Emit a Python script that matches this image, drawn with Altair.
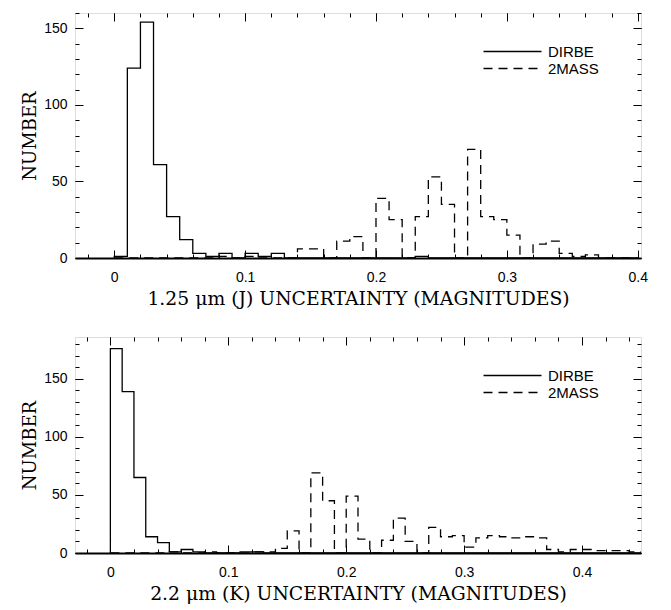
import altair as alt
import pandas as pd

# ---------------- data (left edges of 0.01-mag bins) ----------------
bins_J = [0.00, 0.01, 0.02, 0.03, 0.04, 0.05, 0.06, 0.07, 0.08, 0.09,
          0.10, 0.11, 0.12, 0.13, 0.14, 0.15, 0.16, 0.17, 0.18, 0.19,
          0.20, 0.21, 0.22, 0.23, 0.24, 0.25, 0.26, 0.27, 0.28, 0.29,
          0.30, 0.31, 0.32, 0.33, 0.34, 0.35, 0.36, 0.37, 0.38, 0.39]
dirbe_J = [1, 124, 154, 61, 27, 12, 3, 1, 3, 0,
           3, 1, 3, 0, 0, 0, 0, 0, 0, 0,
           0, 0, 0, 1, 0, 0, 0, 0, 0, 0,
           0, 0, 0, 0, 0, 0, 0, 0, 0, 0]
mass_J = [0, 0, 0, 0, 0, 0, 0, 0, 1, 0,
          1, 0, 0, 0, 6, 6, 0, 11, 14, 0,
          39, 25, 0, 27, 53, 35, 0, 71, 27, 25,
          15, 0, 9, 11, 3, 1, 2, 0, 0, 0]

bins_K = [0.00, 0.01, 0.02, 0.03, 0.04, 0.05, 0.06, 0.07, 0.08, 0.09,
          0.10, 0.11, 0.12, 0.13, 0.14, 0.15, 0.16, 0.17, 0.18, 0.19,
          0.20, 0.21, 0.22, 0.23, 0.24, 0.25, 0.26, 0.27, 0.28, 0.29,
          0.30, 0.31, 0.32, 0.33, 0.34, 0.35, 0.36, 0.37, 0.38, 0.39,
          0.40, 0.41, 0.42, 0.43, 0.44]
dirbe_K = [176, 139, 65, 14, 9, 1, 3, 1, 0, 0,
           0, 1, 1, 0, 0, 0, 0, 0, 0, 0,
           0, 0, 0, 0, 0, 0, 0, 0, 0, 0,
           0, 0, 0, 0, 0, 0, 0, 0, 0, 0,
           0, 0, 0, 0, 0]
mass_K = [0, 0, 0, 0, 0, 1, 0, 0, 1, 0,
          0, 0, 1, 1, 4, 19, 0, 69, 45, 0,
          49, 12, 0, 11, 30, 10, 0, 22, 14, 15,
          5, 13, 15, 14, 13, 14, 13, 3, 1, 3,
          3, 2, 2, 2, 1]

series_names = ["DIRBE", "2MASS"]

W = 566
FONT_TICK = "Liberation Sans"
FONT_TITLE = "DejaVu Serif"


def step_table(bins, dirbe, mass):
    rows = []
    for name, vals in zip(series_names, (dirbe, mass)):
        k = 0
        rows.append({"x": bins[0], "n": 0, "series": name, "k": k})
        for b, v in zip(bins, vals):
            k += 1
            rows.append({"x": b, "n": v, "series": name, "k": k})
        k += 1
        rows.append({"x": round(bins[-1] + 0.01, 2), "n": 0, "series": name, "k": k})
    return pd.DataFrame(rows)


def panel(df, xdom, ydom, H, xtitle, xmajor, xminor):
    xs = alt.Scale(domain=xdom, nice=False, zero=False)
    ys = alt.Scale(domain=ydom, nice=False, zero=False)
    ymajor = [0, 50, 100, 150]
    yminor = list(range(0, int(ydom[1]) + 1, 10))
    base = alt.Chart(df)

    main = base.mark_line(interpolate="step-after", color="black", strokeWidth=1.3, clip=True).encode(
        x=alt.X("x:Q", scale=xs, axis=alt.Axis(
            orient="bottom", values=xmajor, format="~g", ticks=False, tickSize=0, domain=True,
            domainColor="black", domainWidth=2, grid=False, labelPadding=12, labelFlush=False,
            labelFont=FONT_TICK, labelFontSize=14, labelColor="black",
            title=xtitle, titleFont=FONT_TITLE, titleFontSize=18.8, titleFontWeight="normal",
            titleColor="black", titlePadding=5)),
        y=alt.Y("n:Q", scale=ys, axis=alt.Axis(
            orient="left", values=ymajor, ticks=False, tickSize=0, domain=False, grid=False,
            labelPadding=8, labelFont=FONT_TICK, labelFontSize=14, labelColor="black",
            title="NUMBER", titleFont=FONT_TITLE, titleFontSize=18, titleFontWeight="normal",
            titleColor="black", titlePadding=4)),
        strokeDash=alt.StrokeDash("series:N", scale=alt.Scale(
            domain=series_names, range=[[1, 0], [9, 6]]),
            legend=alt.Legend(title=None, orient="none", legendX=430, legendY=31,
                              symbolType="M-5,0H5", symbolSize=134.56,
                              symbolStrokeColor="black", symbolStrokeWidth=1.3,
                              labelFont=FONT_TICK, labelFontSize=15, labelColor="black",
                              labelOffset=28, rowPadding=1)),
        order=alt.Order("k:Q"),
    )

    def tick_layer(xorient, yorient, xvals, yvals, size):
        return base.mark_line(opacity=0).encode(
            x=alt.X("x:Q", scale=xs, axis=alt.Axis(
                orient=xorient, offset=-H, values=xvals, labels=False, domain=False, grid=False,
                ticks=True, tickSize=size, tickColor="black", tickWidth=1, title=None)),
            y=alt.Y("n:Q", scale=ys, axis=alt.Axis(
                orient=yorient, offset=-W, values=yvals, labels=False, domain=False, grid=False,
                ticks=True, tickSize=size, tickColor="black", tickWidth=1, title=None)),
            detail="series:N",
            order=alt.Order("k:Q"),
        )

    layers = [
        main,
        tick_layer("top", "right", xmajor, ymajor, 8),
        tick_layer("top", "right", xminor, yminor, 4),
        tick_layer("bottom", "left", xmajor, ymajor, 8),
        tick_layer("bottom", "left", xminor, yminor, 4),
    ]
    return alt.layer(*layers).resolve_axis(x="independent", y="independent").properties(
        width=W, height=H)


xminor_J = [-0.02, 0.0, 0.02, 0.04, 0.06, 0.08, 0.10, 0.12, 0.14, 0.16, 0.18, 0.20,
            0.22, 0.24, 0.26, 0.28, 0.30, 0.32, 0.34, 0.36, 0.38, 0.40]
xminor_K = xminor_J + [0.42, 0.44]

top = panel(step_table(bins_J, dirbe_J, mass_J), [-0.03, 0.4025], [0, 160], 245,
            "1.25 μm (J) UNCERTAINTY (MAGNITUDES)", [0, 0.1, 0.2, 0.3, 0.4], xminor_J)
bottom = panel(step_table(bins_K, dirbe_K, mass_K), [-0.03, 0.45], [0, 186], 216,
               "2.2 μm (K) UNCERTAINTY (MAGNITUDES)", [0, 0.1, 0.2, 0.3, 0.4], xminor_K)

chart = alt.vconcat(top, bottom, spacing=27).resolve_scale(
    strokeDash="independent").resolve_legend(strokeDash="independent").properties(
    padding={"left": 21, "top": 12, "right": 5, "bottom": 5}
).configure_view(stroke="black", strokeWidth=1.3).configure(background="white")

chart.save("out.html", embed_options={"renderer": "svg", "actions": False})
